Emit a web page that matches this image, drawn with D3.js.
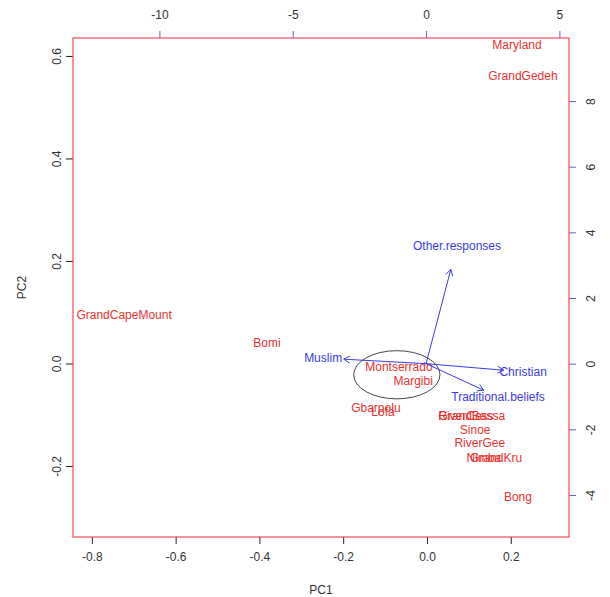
<!DOCTYPE html>
<html>
<head>
<meta charset="utf-8">
<script src="https://cdn.jsdelivr.net/npm/d3@7"></script>
<style>
  html, body { margin: 0; padding: 0; background: #fff; }
  svg { display: block; font-family: "Liberation Sans", Arial, sans-serif; }
</style>
</head>
<body>
<svg id="chart" width="610" height="597"></svg>
<script>
// County scores on the first two principal components
const counties = ["Maryland", "GrandGedeh", "GrandCapeMount", "Bomi", "Montserrado", "Margibi",
  "Gbarpolu", "Lofa", "GrandBassa", "RiverCess", "Sinoe", "RiverGee", "GrandKru", "Nimba", "Bong"];
const pc1 = [0.215, 0.229, -0.723, -0.382, -0.067, -0.033,
  -0.122, -0.105, 0.107, 0.093, 0.115, 0.126, 0.165, 0.136, 0.217];
const pc2 = [0.621, 0.561, 0.095, 0.040, -0.007, -0.034,
  -0.087, -0.095, -0.102, -0.102, -0.130, -0.155, -0.184, -0.184, -0.260];

// Variable loadings (top / right axes)
const variables = ["Other.responses", "Muslim", "Christian", "Traditional.beliefs"];
const load1 = [1.16, -3.86, 3.64, 2.70];
const load2 = [3.59, 0.17, -0.25, -1.01];

// Tick values
const ticksBottom = [-0.8, -0.6, -0.4, -0.2, 0.0, 0.2];
const ticksLeft = [-0.2, 0.0, 0.2, 0.4, 0.6];
const ticksTop = [-10, -5, 0, 5];
const ticksRight = [-4, -2, 0, 2, 4, 6, 8];

// Highlighted cluster (centre and radii in PC units)
const clusterCentre = [-0.072, -0.022];
const clusterRadii = [0.103, 0.047];

const L = 73, R = 569, T = 38, B = 537;
const RED = "#e8322f", BORDER = "#ee4a5c", BLUE = "#3b3be6", GREY = "#333";

const svg = d3.select("#chart");

const x = d3.scaleLinear().domain([-0.845, 0.339]).range([L, R]);
const y = d3.scaleLinear().domain([-0.3385, 0.635]).range([B, T]);
const x2 = d3.scaleLinear().domain([-13.24, 5.36]).range([L, R]);
const y2 = d3.scaleLinear().domain([-5.28, 9.92]).range([B, T]);

function styleAxis(g, tickColor) {
  g.select(".domain").remove();
  g.selectAll(".tick line").attr("stroke", tickColor);
  g.selectAll(".tick text").attr("fill", GREY).style("font-size", "12px")
    .style("font-family", "'Liberation Sans', Arial, sans-serif");
}

// Plain hyphen-minus for negative tick labels
const fmt1 = d => d3.format(".1f")(d).replace("\u2212", "-");
const fmtInt = d => d3.format("d")(d).replace("\u2212", "-");

// Bottom axis
svg.append("g").attr("transform", `translate(0,${B})`)
  .call(d3.axisBottom(x).tickValues(ticksBottom).tickFormat(fmt1).tickSize(7).tickPadding(8))
  .call(g => styleAxis(g, "#222"));

// Left axis (labels parallel to axis)
svg.append("g").attr("transform", `translate(${L},0)`)
  .call(d3.axisLeft(y).tickValues(ticksLeft).tickFormat(fmt1).tickSize(7))
  .call(g => styleAxis(g, "#222"))
  .call(g => g.selectAll(".tick text")
    .attr("x", null).attr("dy", null)
    .attr("text-anchor", "middle")
    .attr("transform", "translate(-16,0) rotate(-90)")
    .attr("dy", "0.35em"));

// Top axis
svg.append("g").attr("transform", `translate(0,${T})`)
  .call(d3.axisTop(x2).tickValues(ticksTop).tickFormat(fmtInt).tickSize(7).tickPadding(12))
  .call(g => styleAxis(g, "#5a68b8"));

// Right axis (labels parallel to axis)
svg.append("g").attr("transform", `translate(${R},0)`)
  .call(d3.axisRight(y2).tickValues(ticksRight).tickFormat(fmtInt).tickSize(7))
  .call(g => styleAxis(g, "#5a68b8"))
  .call(g => g.selectAll(".tick text")
    .attr("x", null).attr("dy", null)
    .attr("text-anchor", "middle")
    .attr("transform", "translate(22,0) rotate(-90)")
    .attr("dy", "0.35em"));

// Axis titles
svg.append("text").attr("x", (L + R) / 2).attr("y", 594)
  .attr("text-anchor", "middle").attr("fill", GREY).style("font-size", "12px").text("PC1");
svg.append("text").attr("transform", `translate(26,${(T + B) / 2}) rotate(-90)`)
  .attr("text-anchor", "middle").attr("fill", GREY).style("font-size", "12px").text("PC2");

// County labels
const scores = counties.map((c, i) => ({ name: c, a: pc1[i], b: pc2[i] }));
svg.append("g").selectAll("text").data(scores).join("text")
  .attr("x", d => x(d.a)).attr("y", d => y(d.b))
  .attr("dy", "0.35em").attr("text-anchor", "middle")
  .attr("fill", RED).style("font-size", "12px").text(d => d.name);

// Cluster ellipse
svg.append("ellipse")
  .attr("cx", x(clusterCentre[0])).attr("cy", y(clusterCentre[1]))
  .attr("rx", x(clusterCentre[0] + clusterRadii[0]) - x(clusterCentre[0]))
  .attr("ry", y(clusterCentre[1]) - y(clusterCentre[1] + clusterRadii[1]))
  .attr("fill", "none").attr("stroke", "#444").attr("stroke-width", 1);

// Loading arrows (drawn to 80% of the loading, labels at the full loading)
const loads = variables.map((v, i) => ({ name: v, a: load1[i], b: load2[i] }));
const ga = svg.append("g").attr("stroke", BLUE).attr("fill", "none").attr("stroke-width", 1);
loads.forEach(d => {
  const x0 = x2(0), y0 = y2(0);
  const x1 = x2(d.a * 0.8), y1 = y2(d.b * 0.8);
  ga.append("line").attr("x1", x0).attr("y1", y0).attr("x2", x1).attr("y2", y1);
  const ang = Math.atan2(y1 - y0, x1 - x0);
  const len = 7, spread = Math.PI / 6;
  const p = [
    [x1 - len * Math.cos(ang - spread), y1 - len * Math.sin(ang - spread)],
    [x1, y1],
    [x1 - len * Math.cos(ang + spread), y1 - len * Math.sin(ang + spread)]
  ];
  ga.append("path").attr("d", d3.line()(p));
});
svg.append("g").selectAll("text").data(loads).join("text")
  .attr("x", d => x2(d.a)).attr("y", d => y2(d.b))
  .attr("dy", "0.35em").attr("text-anchor", "middle")
  .attr("fill", BLUE).style("font-size", "12px").text(d => d.name);

// Plot frame
svg.append("rect").attr("x", L).attr("y", T).attr("width", R - L).attr("height", B - T)
  .attr("fill", "none").attr("stroke", BORDER).attr("stroke-width", 1.2);
</script>
</body>
</html>
